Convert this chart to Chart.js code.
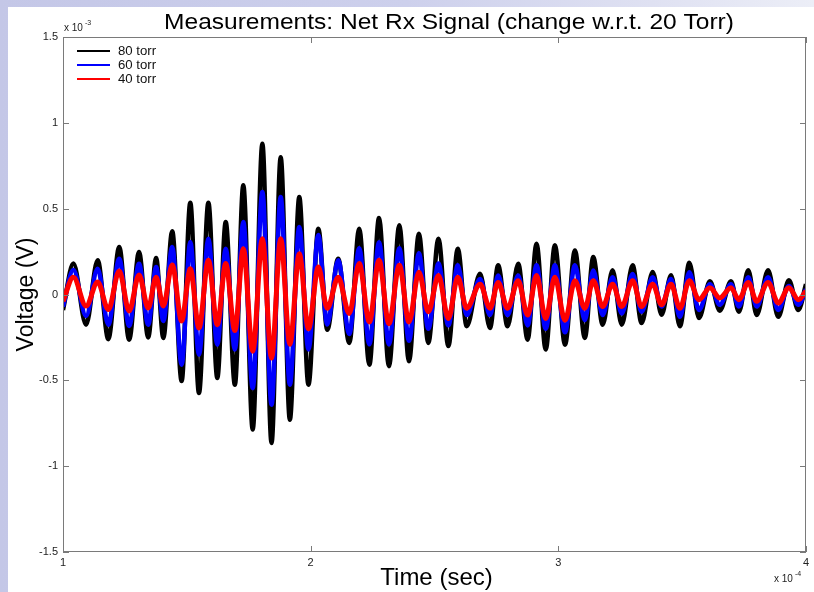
<!DOCTYPE html>
<html>
<head>
<meta charset="utf-8">
<script src="https://cdn.jsdelivr.net/npm/chart.js@4.4.1/dist/chart.umd.min.js"></script>
<style>
  html, body { margin: 0; padding: 0; }
  body { width: 814px; height: 592px; overflow: hidden;
         background: linear-gradient(to right, #c4c7e7 0%, #cdd0ec 50%, #dfe1f2 80%, #eceef7 100%); position: relative; }
  #wrap { position: absolute; left: 0; top: 0; width: 814px; height: 592px; }
  canvas { display: block; }
</style>
</head>
<body>
<div id="wrap"><canvas id="c" width="814" height="592"></canvas></div>
<script>
// Time in units of 1e-4 s, voltage in units of 1e-3 V
const times = [1.000,1.042,1.093,1.140,1.183,1.227,1.267,1.307,1.344,1.376,1.405,1.441,1.479,1.514,1.549,1.587,1.623,1.657,1.694,1.728,1.766,1.805,1.842,1.879,1.916,1.954,1.991,2.031,2.067,2.111,2.156,2.196,2.237,2.276,2.316,2.358,2.397,2.437,2.475,2.516,2.556,2.594,2.630,2.684,2.724,2.757,2.795,2.838,2.876,2.912,2.949,2.986,3.027,3.067,3.107,3.141,3.179,3.219,3.256,3.300,3.336,3.381,3.417,3.455,3.491,3.529,3.568,3.612,3.652,3.697,3.729,3.767,3.801,3.847,3.888,3.931,3.969,4.000];
const torr80 = [-0.09,0.18,-0.176,0.20,-0.26,0.277,-0.263,0.248,-0.25,0.213,-0.253,0.368,-0.504,0.535,-0.574,0.535,-0.486,0.422,-0.525,0.636,-0.787,0.878,-0.865,0.80,-0.729,0.568,-0.525,0.383,-0.205,0.208,-0.282,0.383,-0.409,0.445,-0.418,0.403,-0.389,0.354,-0.282,0.325,-0.30,0.267,-0.185,0.121,-0.195,0.17,-0.185,0.179,-0.263,0.296,-0.321,0.287,-0.292,0.257,-0.253,0.218,-0.176,0.141,-0.176,0.17,-0.166,0.131,-0.118,0.112,-0.185,0.185,-0.137,0.077,-0.094,0.077,-0.10,0.141,-0.12,0.141,-0.13,0.083,-0.09,0.06];
const torr60 = [-0.07,0.143,-0.125,0.15,-0.176,0.208,-0.183,0.179,-0.176,0.16,-0.154,0.277,-0.409,0.306,-0.35,0.325,-0.292,0.267,-0.32,0.422,-0.545,0.597,-0.642,0.568,-0.525,0.393,-0.32,0.346,-0.175,0.20,-0.23,0.27,-0.29,0.305,-0.29,0.27,-0.27,0.24,-0.20,0.18,-0.18,0.17,-0.12,0.09,-0.12,0.11,-0.12,0.11,-0.18,0.17,-0.20,0.17,-0.22,0.17,-0.15,0.14,-0.12,0.10,-0.11,0.12,-0.10,0.10,-0.07,0.09,-0.13,0.13,-0.09,0.06,-0.06,0.06,-0.07,0.10,-0.07,0.10,-0.09,0.05,-0.06,0.03];
const torr40 = [-0.04,0.10,-0.067,0.073,-0.088,0.137,-0.096,0.114,-0.079,0.10,-0.067,0.172,-0.154,0.15,-0.195,0.20,-0.176,0.18,-0.21,0.267,-0.33,0.325,-0.37,0.325,-0.29,0.238,-0.20,0.16,-0.08,0.10,-0.11,0.18,-0.16,0.20,-0.17,0.17,-0.16,0.13,-0.10,0.11,-0.14,0.10,-0.08,0.06,-0.08,0.07,-0.08,0.08,-0.12,0.11,-0.14,0.10,-0.15,0.08,-0.08,0.08,-0.07,0.06,-0.07,0.08,-0.07,0.06,-0.06,0.06,-0.08,0.08,-0.03,0.04,-0.02,0.04,-0.03,0.07,-0.04,0.07,-0.05,0.04,-0.03,0.02];
const seriesLabels = ['80 torr', '60 torr', '40 torr'];
const seriesColors = ['#000000', '#0000ff', '#ff0000'];
const seriesWidths = [4.5, 4.5, 5];
const xTicks = [1, 2, 3, 4];
const yTicks = [-1.5, -1, -0.5, 0, 0.5, 1, 1.5];
const titleText = 'Measurements: Net Rx Signal (change w.r.t. 20 Torr)';
const xTitle = 'Time (sec)';
const yTitle = 'Voltage (V)';

const FONT = '"Liberation Sans", Arial, Helvetica, sans-serif';
const toPts = (vals) => vals.map((v, i) => ({ x: times[i], y: v }));
const seriesValues = [torr80, torr60, torr40];

const datasets = seriesValues.map((vals, i) => ({
  label: seriesLabels[i],
  data: toPts(vals),
  borderColor: seriesColors[i],
  backgroundColor: seriesColors[i],
  borderWidth: seriesWidths[i],
  pointRadius: 0,
  cubicInterpolationMode: 'monotone',
  fill: false,
  order: 3 - i
}));

function stretchedText(ctx, text, cx, y, sx) {
  ctx.save();
  ctx.translate(cx, y);
  ctx.scale(sx, 1);
  ctx.fillText(text, 0, 0);
  ctx.restore();
}

const decor = {
  id: 'decor',
  beforeDraw(chart) {
    const ctx = chart.ctx;
    ctx.save();
    ctx.fillStyle = '#ffffff';
    ctx.fillRect(8, 7, 806, 585);
    ctx.restore();
  },
  afterDatasetsDraw(chart) {
    const ctx = chart.ctx;
    const a = chart.chartArea;
    const xs = chart.scales.x, ys = chart.scales.y;
    ctx.save();
    ctx.strokeStyle = '#7a7a7a';
    ctx.lineWidth = 1;
    ctx.strokeRect(a.left + 0.5, a.top + 0.5, a.right - a.left - 1, a.bottom - a.top - 1);
    ctx.beginPath();
    const tl = 6;
    xTicks.forEach(v => {
      const px = Math.round(xs.getPixelForValue(v)) + 0.5;
      ctx.moveTo(px, a.bottom); ctx.lineTo(px, a.bottom - tl);
      ctx.moveTo(px, a.top); ctx.lineTo(px, a.top + tl);
    });
    yTicks.forEach(v => {
      const py = Math.round(ys.getPixelForValue(v)) + 0.5;
      ctx.moveTo(a.left, py); ctx.lineTo(a.left + tl, py);
      ctx.moveTo(a.right, py); ctx.lineTo(a.right - tl, py);
    });
    ctx.stroke();

    // legend
    ctx.textBaseline = 'middle';
    ctx.font = '12px ' + FONT;
    chart.data.datasets.forEach((ds, i) => {
      const y = a.top + 14 + i * 14;
      ctx.strokeStyle = ds.borderColor;
      ctx.lineWidth = 2;
      ctx.beginPath();
      ctx.moveTo(a.left + 14, y); ctx.lineTo(a.left + 47, y);
      ctx.stroke();
      ctx.fillStyle = '#111';
      ctx.textAlign = 'left';
      stretchedText(ctx, ds.label, a.left + 55, y + 0.5, 1.1);
    });

    // title
    ctx.fillStyle = '#000';
    ctx.textAlign = 'center';
    ctx.textBaseline = 'alphabetic';
    ctx.font = '22px ' + FONT;
    stretchedText(ctx, titleText, 449, 29, 1.115);
    // x title
    ctx.font = '24px ' + FONT;
    ctx.fillText(xTitle, (a.left + a.right) / 2 + 2, 585);
    // y title
    ctx.save();
    ctx.translate(33, (a.top + a.bottom) / 2);
    ctx.rotate(-Math.PI / 2);
    ctx.font = '23px ' + FONT;
    ctx.fillText(yTitle, 0, 0);
    ctx.restore();

    // exponent labels
    ctx.fillStyle = '#222';
    ctx.textAlign = 'left';
    ctx.font = '10px ' + FONT;
    ctx.fillText('x 10', a.left + 1, 31);
    ctx.font = '7px ' + FONT;
    ctx.fillText('-3', a.left + 22, 25);
    ctx.font = '10px ' + FONT;
    ctx.fillText('x 10', a.right - 32, 582);
    ctx.font = '7px ' + FONT;
    ctx.fillText('-4', a.right - 11, 576);
    ctx.restore();
  }
};

new Chart(document.getElementById('c'), {
  type: 'line',
  data: { datasets },
  options: {
    responsive: false,
    animation: false,
    devicePixelRatio: 1,
    layout: { padding: { left: 8, right: 8, top: 37, bottom: 0 } },
    plugins: { legend: { display: false }, title: { display: false }, tooltip: { enabled: false } },
    scales: {
      x: {
        type: 'linear', min: 1, max: 4,
        afterFit: (s) => { s.height = 40; },
        afterBuildTicks: (s) => { s.ticks = xTicks.map(v => ({ value: v })); },
        grid: { display: false, drawTicks: false },
        border: { display: false },
        ticks: { font: { size: 11, family: FONT }, color: '#222', padding: 4, maxRotation: 0, autoSkip: false,
                 callback: (v) => String(v) }
      },
      y: {
        type: 'linear', min: -1.5, max: 1.5,
        afterFit: (s) => { s.width = 55; },
        afterBuildTicks: (s) => { s.ticks = yTicks.map(v => ({ value: v })); },
        grid: { display: false, drawTicks: false },
        border: { display: false },
        ticks: { font: { size: 11, family: FONT }, color: '#222', padding: 5, autoSkip: false,
                 callback: (v) => String(v) }
      }
    }
  },
  plugins: [decor]
});
</script>
</body>
</html>
